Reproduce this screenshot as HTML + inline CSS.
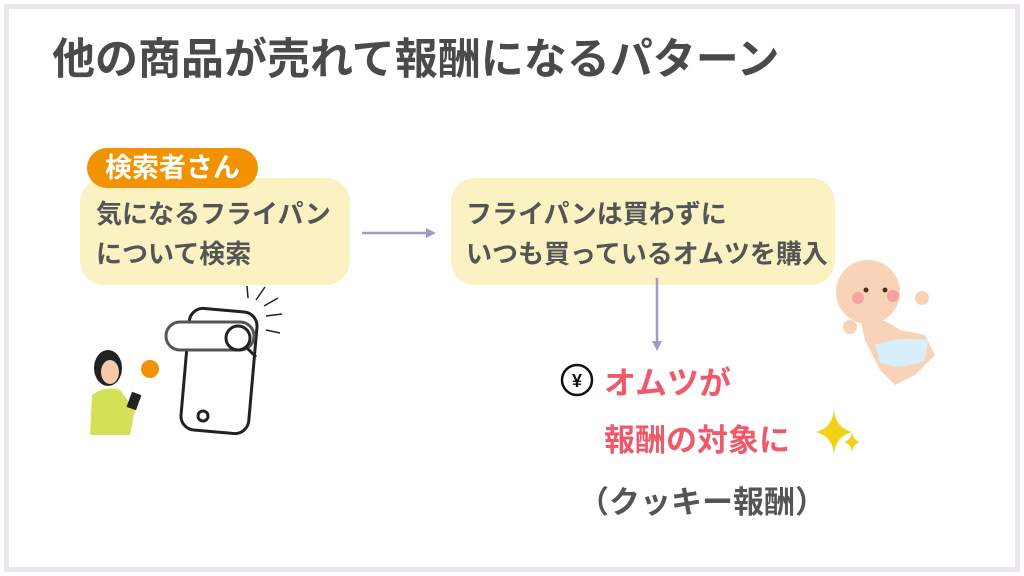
<!DOCTYPE html><html><head><meta charset="utf-8"><style>
body{margin:0;width:1024px;height:576px;background:#fff;position:relative;overflow:hidden;font-family:"Liberation Sans","Noto Sans CJK JP",sans-serif;font-weight:bold}
.frame{position:absolute;left:4px;top:4px;border:5px solid #ece6ef;box-sizing:border-box;width:1016px;height:568px}
.t{position:absolute;white-space:nowrap}
.box{position:absolute;background:#fbf2c4;border-radius:24px}
</style></head><body>
<div class="frame"></div>
<div class="t" style="left:52px;top:25px;font-size:43px;color:#4a4a4a">他の商品が売れて報酬になるパターン</div>
<div class="box" style="left:80px;top:178px;width:270px;height:107px"></div>
<div class="t" style="left:87px;top:148px;width:171px;height:40px;background:#f39200;border-radius:20px;color:#fff;font-size:27px;line-height:40px;text-align:center">検索者さん</div>
<div class="t" style="left:96px;top:194px;font-size:26px;line-height:40px;color:#555">気になるフライパン<br>について検索</div>
<div class="box" style="left:451px;top:178px;width:384px;height:107px"></div>
<div class="t" style="left:466px;top:194px;font-size:26px;line-height:40px;color:#555">フライパンは買わずに<br>いつも買っているオムツを購入</div>
<svg style="position:absolute;left:0;top:0" width="1024" height="576">
<line x1="362" y1="233" x2="428" y2="233" stroke="#a09cc4" stroke-width="2.5"/><polygon points="436,233 426,228 426,238" fill="#a09cc4"/>
<line x1="657" y1="278" x2="657" y2="343" stroke="#a09cc4" stroke-width="2.5"/><polygon points="657,351 652,341 662,341" fill="#a09cc4"/>
<g fill="none" stroke="#222" stroke-width="3">
<rect x="185" y="310" width="68" height="122" rx="14" transform="rotate(5 219 371)"/>
<rect x="166" y="322" width="88" height="28" rx="14" fill="#fff" stroke="#555"/>
<circle cx="238" cy="338" r="12"/><line x1="246" y1="347" x2="256" y2="357"/>
<circle cx="203" cy="416" r="5"/>
<line x1="247" y1="286" x2="248" y2="298" stroke-width="1.5"/><line x1="256" y1="300" x2="265" y2="287" stroke-width="1.5"/><line x1="264" y1="306" x2="278" y2="298" stroke-width="1.5"/><line x1="266" y1="316" x2="282" y2="314" stroke-width="1.5"/><line x1="266" y1="330" x2="280" y2="333" stroke-width="1.5"/>
</g>
<path d="M90 435 L92 395 Q105 385 120 390 L135 410 L130 435Z" fill="#d4e157"/>
<ellipse cx="108" cy="368" rx="14" ry="18" fill="#222"/>
<ellipse cx="110" cy="372" rx="9" ry="12" fill="#f6c9a8"/>
<rect x="129" y="393" width="10" height="16" fill="#222" transform="rotate(20 134 401)"/>
<circle cx="150" cy="369" r="9" fill="#f39200"/>
<circle cx="868" cy="292" r="32" fill="#f8d3b8"/>
<circle cx="858" cy="298" r="6" fill="#f4a3a0"/><circle cx="893" cy="296" r="6" fill="#f4a3a0"/>
<circle cx="866" cy="290" r="2.5" fill="#4a3020"/><circle cx="885" cy="290" r="2.5" fill="#4a3020"/>
<path d="M860 318 Q880 315 900 330 L925 335 L935 355 L915 375 L895 385 L880 370 L865 340Z" fill="#f8d3b8"/>
<path d="M875 345 Q900 336 928 340 L925 360 Q900 372 880 362Z" fill="#d9eefb"/>
<circle cx="850" cy="327" r="7" fill="#f8d3b8"/><circle cx="922" cy="298" r="7" fill="#f8d3b8"/>
<circle cx="577" cy="380" r="15" fill="#fff" stroke="#111" stroke-width="2.5"/>
<text x="577" y="387" font-size="18" text-anchor="middle" fill="#111" font-family="Liberation Sans,sans-serif" font-weight="bold">¥</text>
<path d="M834 410 Q836 428 852 432 Q836 436 834 454 Q832 436 816 432 Q832 428 834 410Z" fill="#f2d214"/>
<path d="M852 432 Q853 440 860 442 Q853 444 852 452 Q851 444 844 442 Q851 440 852 432Z" fill="#f2d214"/>
</svg>
<div class="t" style="left:604px;top:358px;font-size:32px;color:#f0596a">オムツが</div>
<div class="t" style="left:604px;top:415px;font-size:31px;color:#f0596a">報酬の対象に</div>
<div class="t" style="left:578px;top:477px;font-size:31px;color:#555">（クッキー報酬）</div>
</body></html>
